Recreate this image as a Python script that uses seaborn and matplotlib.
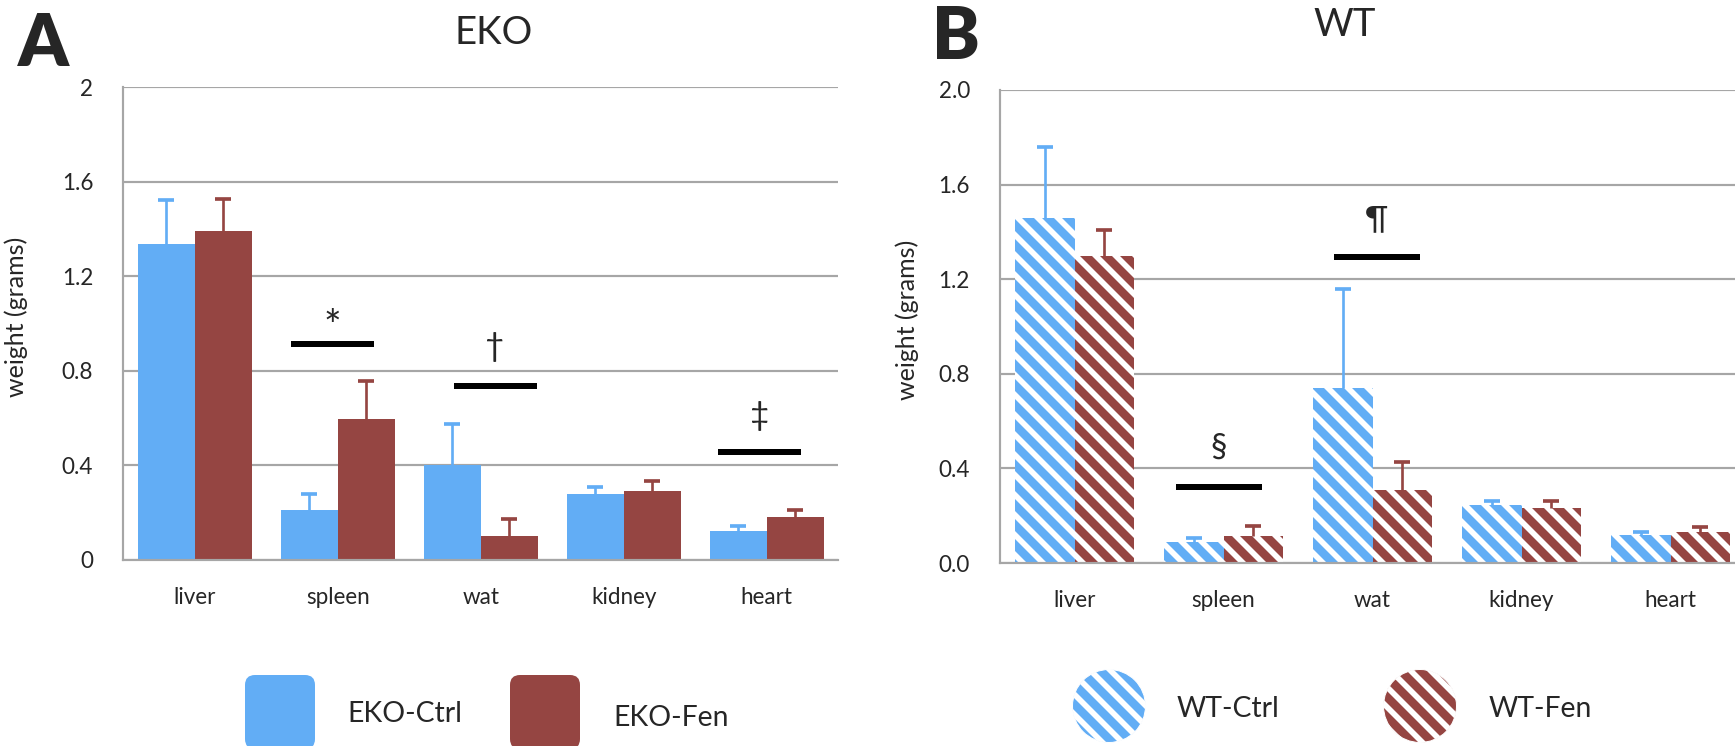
import numpy as np
import pandas as pd
import matplotlib
matplotlib.use("Agg")
import matplotlib.pyplot as plt
import seaborn as sns
from matplotlib.patches import FancyBboxPatch, Circle

sns.set_style("white")
plt.rcParams["font.family"] = ["Lato", "DejaVu Sans"]
plt.rcParams["hatch.linewidth"] = 3.4

organs = ["liver", "spleen", "wat", "kidney", "heart"]

# EKO panel (A)
eko_ctrl = [1.335, 0.211, 0.402, 0.280, 0.124]
eko_ctrl_err = [0.188, 0.069, 0.174, 0.028, 0.020]
eko_fen = [1.392, 0.596, 0.102, 0.293, 0.183]
eko_fen_err = [0.134, 0.162, 0.073, 0.039, 0.027]

# WT panel (B)
wt_ctrl = [1.458, 0.088, 0.738, 0.245, 0.120]
wt_ctrl_err = [0.300, 0.017, 0.421, 0.019, 0.012]
wt_fen = [1.296, 0.115, 0.309, 0.234, 0.130]
wt_fen_err = [0.114, 0.041, 0.118, 0.030, 0.023]

# significance marks: (organ, symbol, bar level, symbol level, x shift, symbol size)
eko_sig = [("spleen", "*", 0.915, 0.98, -0.04, 25),
           ("wat", "\u2020", 0.737, 0.90, 0.10, 20),
           ("heart", "\u2021", 0.455, 0.61, -0.05, 20)]
wt_sig = [("spleen", "\u00a7", 0.320, 0.487, -0.03, 20),
          ("wat", "\u00b6", 1.293, 1.45, 0.03, 20)]

BLUE = "#62adf5"
RED = "#954542"
GRID = "#a6a6a6"
HATCH = "\\\\"

W, H, DPI = 1735, 746, 120
fig = plt.figure(figsize=(W / DPI, H / DPI), dpi=DPI)


def draw_panel(ax, ctrl, ctrl_err, fen, fen_err, names, sig, hatched, ylabels, ylab_x):
    df = pd.DataFrame({
        "organ": organs * 2,
        "weight": ctrl + fen,
        "group": [names[0]] * len(organs) + [names[1]] * len(organs),
    })
    sns.barplot(data=df, x="organ", y="weight", hue="group", palette=[BLUE, RED],
                errorbar=None, width=0.8, saturation=1, linewidth=0, legend=False,
                zorder=2, ax=ax)

    for cont, err, col in zip(ax.containers, [ctrl_err, fen_err], [BLUE, RED]):
        xs = [b.get_x() + b.get_width() / 2 for b in cont]
        ys = [b.get_height() for b in cont]
        _, caps, _ = ax.errorbar(xs, ys, yerr=[np.zeros(len(err)), err], fmt="none",
                                 ecolor=col, elinewidth=1.6, capsize=5, capthick=2.2,
                                 zorder=3)
        caps[0].set_visible(False)
        if hatched:
            for b in cont:
                b.set_hatch(HATCH)
                b.set_edgecolor("white")
                b.set_linewidth(0)

    for organ, sym, ybar, ysym, dx, fs in sig:
        c = organs.index(organ) + dx
        ax.plot([c - 0.29, c + 0.29], [ybar, ybar], color="black", lw=3.6,
                solid_capstyle="butt", zorder=4)
        ax.text(c, ysym, sym, ha="center", va="center", fontsize=fs, zorder=4)

    ax.set_xlim(-0.5, len(organs) - 0.5)
    ax.set_ylim(0, 2)
    yt = np.arange(0, 2.01, 0.4)
    ax.set_yticks(yt)
    ax.set_yticklabels(ylabels)
    ax.set_xticks(np.arange(-0.5, len(organs), 1), minor=True)
    ax.grid(axis="y", color=GRID, lw=1.3)
    ax.set_axisbelow(True)
    ax.spines["top"].set_visible(False)
    ax.spines["right"].set_visible(False)
    for s in ["left", "bottom"]:
        ax.spines[s].set_color(GRID)
        ax.spines[s].set_linewidth(1.3)
    ax.tick_params(axis="y", length=7, width=1.3, color=GRID, pad=11, labelsize=13.5)
    ax.tick_params(axis="x", which="major", length=0, pad=16, labelsize=13.5)
    ax.tick_params(axis="x", which="minor", length=7, width=1.3, color=GRID)
    ax.set_xlabel("")
    ax.set_ylabel("weight (grams)", fontsize=15)
    ax.yaxis.set_label_coords(ylab_x, 0.515)


ax_a = fig.add_axes([123.3 / W, 1 - 560 / H, 715 / W, 473 / H])
draw_panel(ax_a, eko_ctrl, eko_ctrl_err, eko_fen, eko_fen_err, ["EKO-Ctrl", "EKO-Fen"],
           eko_sig, False, ["0", "0.4", "0.8", "1.2", "1.6", "2"], -0.133)

ax_b = fig.add_axes([1000 / W, 1 - 563 / H, 745 / W, 473 / H])
draw_panel(ax_b, wt_ctrl, wt_ctrl_err, wt_fen, wt_fen_err, ["WT-Ctrl", "WT-Fen"],
           wt_sig, True, ["0.0", "0.4", "0.8", "1.2", "1.6", "2.0"], -0.109)

# overlay in pixel units for titles, panel letters and legends
ov = fig.add_axes([0, 0, 1, 1], zorder=10)
ov.set_xlim(0, W)
ov.set_ylim(H, 0)
ov.axis("off")

ov.text(43, 66, "A", ha="center", va="baseline", fontsize=43, fontweight="heavy")
ov.text(956, 59, "B", ha="center", va="baseline", fontsize=43, fontweight="heavy")
ov.text(494, 44.5, "EKO", ha="center", va="baseline", fontsize=23)
ov.text(1345, 35.5, "WT", ha="center", va="baseline", fontsize=23)

ov.add_patch(FancyBboxPatch((245, 675), 70, 74, boxstyle="round,pad=0,rounding_size=10",
                            facecolor=BLUE, edgecolor="none"))
ov.add_patch(FancyBboxPatch((510, 675), 70, 74, boxstyle="round,pad=0,rounding_size=10",
                            facecolor=RED, edgecolor="none"))
ov.text(347, 722, "EKO-Ctrl", ha="left", va="baseline", fontsize=17)
ov.text(613, 726, "EKO-Fen", ha="left", va="baseline", fontsize=17)

for cx, col in [(1109, BLUE), (1420, RED)]:
    ov.add_patch(Circle((cx, 706), 36.5, facecolor=col, edgecolor="white",
                        hatch=HATCH, linewidth=0.6))
ov.text(1177, 717, "WT-Ctrl", ha="left", va="baseline", fontsize=17)
ov.text(1489, 717, "WT-Fen", ha="left", va="baseline", fontsize=17)

fig.savefig("out.png", dpi=DPI)
